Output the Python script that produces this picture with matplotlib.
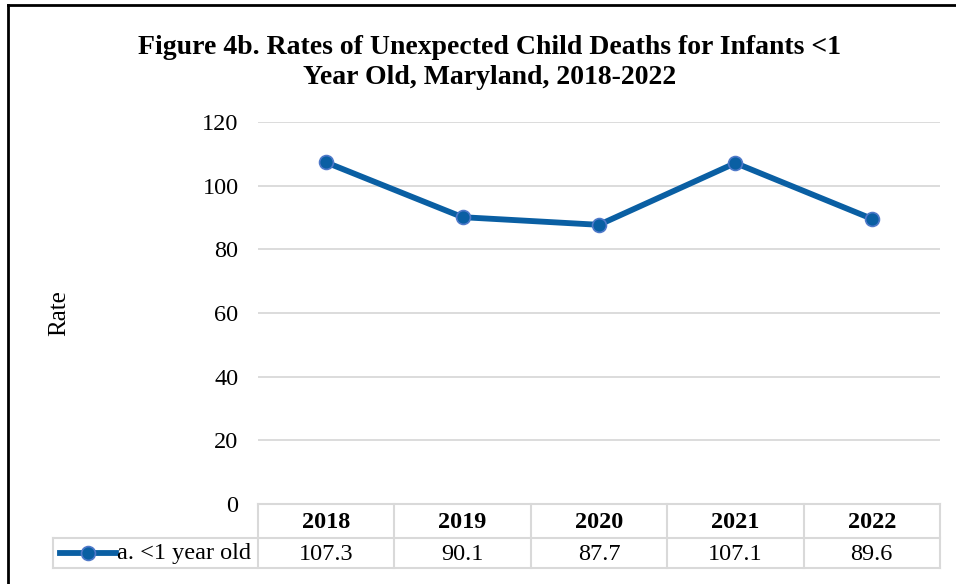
import matplotlib.pyplot as plt
import matplotlib.transforms as mtransforms
from matplotlib.lines import Line2D
import numpy as np

plt.rcParams['font.family'] = ['Liberation Serif', 'DejaVu Serif']

# data
years = ['2018', '2019', '2020', '2021', '2022']
rates = [107.3, 90.1, 87.7, 107.1, 89.6]
series_name = 'a. <1 year old'

W, H = 956, 584
fig = plt.figure(figsize=(W / 100, H / 100), dpi=100)

def fx(px):
  return px / W

def fy(py):
  return 1 - py / H

# plot area in pixel coords
left, right, top, bottom = 258, 940, 122, 504
ax = fig.add_axes([fx(left), fy(bottom), fx(right - left), fy(top) - fy(bottom)])

x = np.arange(len(years))
line_col = '#0a5fa3'
ax.plot(x, rates, color=line_col, lw=4.2, marker='o', ms=10,
        mfc=line_col, mec='#4f79c9', mew=1.2, zorder=5, solid_capstyle='round')

ax.set_xlim(-0.5, len(years) - 0.5)
ax.set_ylim(0, 120)
ax.set_yticks(range(0, 121, 20))
ax.set_xticks([])
ax.tick_params(axis='y', length=0, pad=14, labelsize=17.5)
ax.grid(axis='y', color='#d9d9d9', lw=1.3)
ax.set_axisbelow(True)
for s in ax.spines.values():
  s.set_visible(False)

fig.text(fx(59), fy(313), 'Rate', rotation=90, ha='center', va='center', fontsize=18)

fig.text(fx(490), fy(48), 'Figure 4b. Rates of Unexpected Child Deaths for Infants <1',
         ha='center', va='center', fontsize=20, fontweight='bold')
fig.text(fx(490), fy(77), 'Year Old, Maryland, 2018-2022',
         ha='center', va='center', fontsize=20, fontweight='bold')

# data table below the axis
tab_top, tab_mid, tab_bot = 504, 538, 568
tab_left = 53
grid_c = '#d9d9d9'
trans = mtransforms.blended_transform_factory(ax.transData, fig.transFigure)
for i in range(len(years) + 1):
  xi = i - 0.5
  fig.add_artist(Line2D([xi, xi], [fy(tab_top), fy(tab_bot)], transform=trans,
                        color=grid_c, lw=1.5))
for yy in (tab_top, tab_mid, tab_bot):
  x0 = fx(left) if yy == tab_top else fx(tab_left)
  fig.add_artist(Line2D([x0, fx(right)], [fy(yy), fy(yy)], color=grid_c, lw=1.5))
fig.add_artist(Line2D([fx(tab_left), fx(tab_left)], [fy(tab_mid), fy(tab_bot)],
                      color=grid_c, lw=1.5))

for i, (yr, v) in enumerate(zip(years, rates)):
  fig.text(0, fy((tab_top + tab_mid) / 2 + 1), yr, transform=trans, ha='center',
           va='center', fontsize=17.5, fontweight='bold')
  fig.texts[-1].set_x(i)
  fig.text(0, fy((tab_mid + tab_bot) / 2 + 1), '%.1f' % v, transform=trans, ha='center',
           va='center', fontsize=17.5)
  fig.texts[-1].set_x(i)

# legend key in the table
ly = fy((tab_mid + tab_bot) / 2)
fig.add_artist(Line2D([fx(60), fx(116)], [ly, ly], color=line_col, lw=4.2))
fig.add_artist(Line2D([fx(88)], [ly], marker='o', ms=10, mfc=line_col, mec='#4f79c9',
                      mew=1.2, color=line_col))
fig.text(fx(117), fy((tab_mid + tab_bot) / 2 + 1), series_name, ha='left', va='center',
         fontsize=17.5)

# chart border
fig.add_artist(Line2D([fx(8), fx(8)], [fy(5), 0], color='black', lw=2))
fig.add_artist(Line2D([fx(8), 1], [fy(5), fy(5)], color='black', lw=2))

fig.savefig('out.png', dpi=100)
